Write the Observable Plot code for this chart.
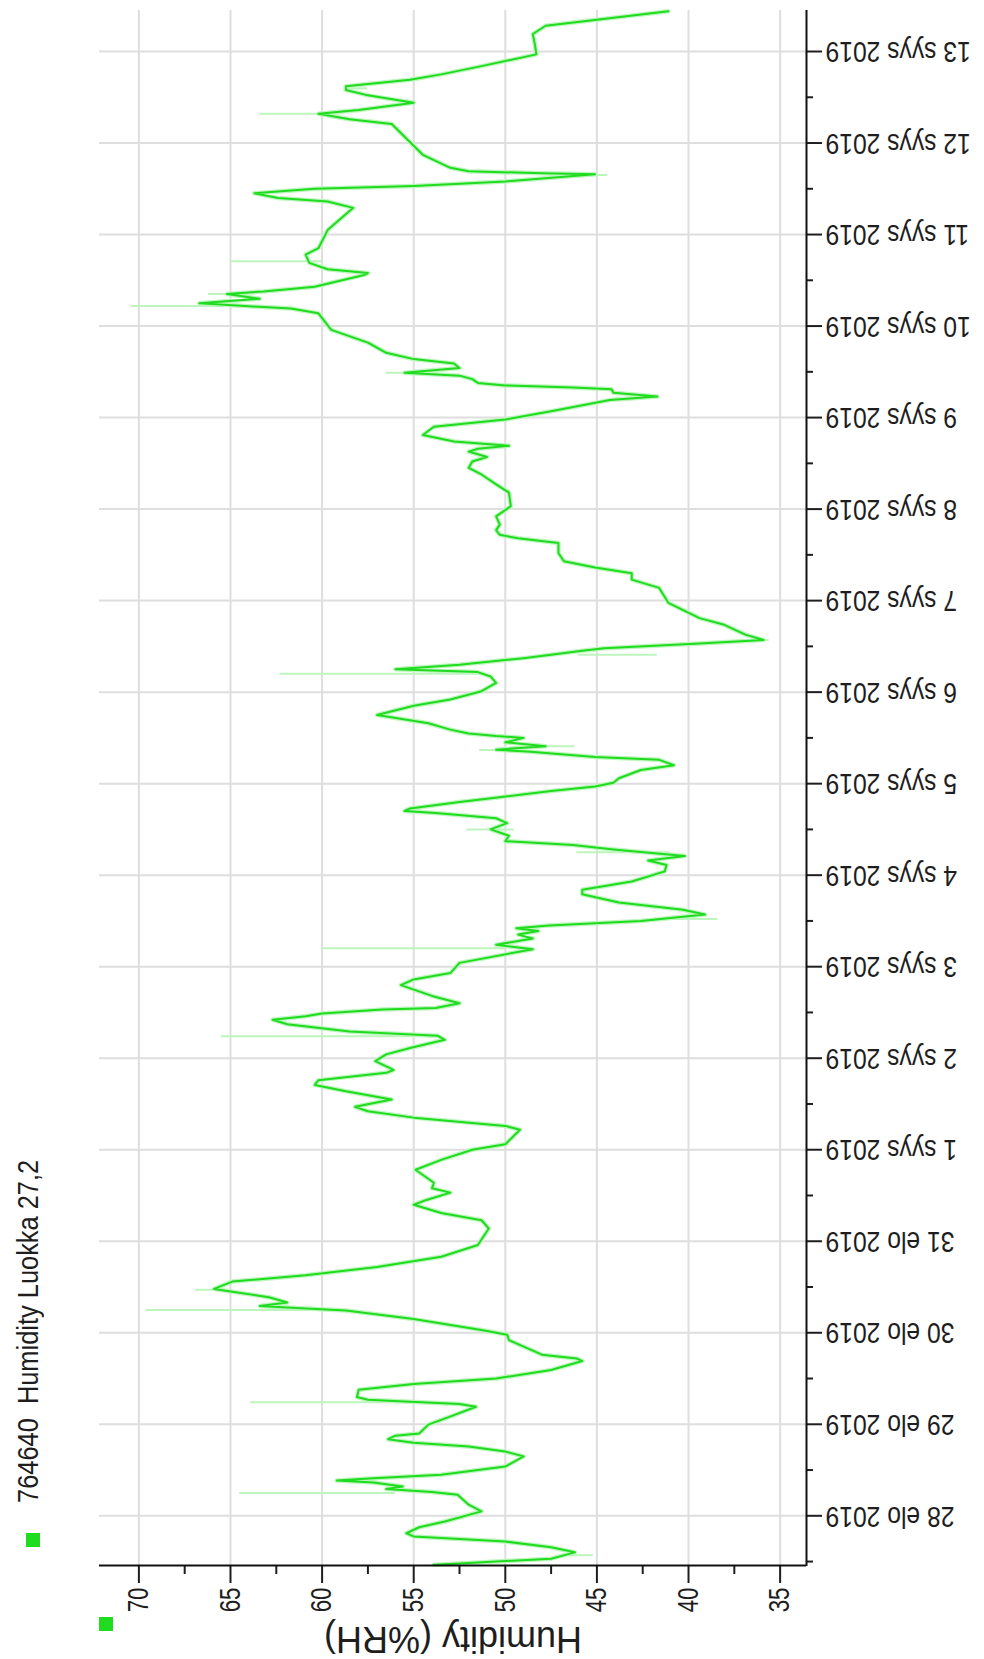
<!DOCTYPE html>
<html>
<head>
<meta charset="utf-8">
<script src="https://cdn.jsdelivr.net/npm/d3@7"></script>
<script src="https://cdn.jsdelivr.net/npm/@observablehq/plot@0.6"></script>
<style>
  html, body { margin: 0; padding: 0; background: #fff; }
  body { width: 984px; height: 1659px; overflow: hidden; position: relative; }
  /* the chart is laid out landscape and turned a quarter turn */
  #page {
    position: absolute; left: 0; top: 0; width: 1659px; height: 984px;
    transform-origin: 0 0; transform: translate(0, 1659px) rotate(-90deg);
    font-family: "Liberation Sans", Arial, sans-serif; background: #fff;
  }
  #chart { position: absolute; left: 0; top: 0; z-index: 0; }
  .legend-text {
    position: absolute; left: 156px; top: 14px; font-size: 29px; line-height: 29px; z-index: 2;
    white-space: pre; color: #1e1e1e; transform-origin: 0 50%; transform: scaleX(0.876);
  }
  .swatch { position: absolute; width: 14px; height: 14px; background: #1fdc1f; z-index: 2; }
</style>
</head>
<body>
<div id="page">
  <div id="chart"></div>
  <div class="swatch" style="left:112px; top:26px;"></div>
  <div class="legend-text">764640  Humidity Luokka 27,2</div>
  <div class="swatch" style="left:28px; top:99px;"></div>
</div>
<script>
// Logger 764640, relative humidity readings (UTC timestamps)
const times = [
  "2019-08-27 11:10","2019-08-27 11:30","2019-08-27 12:45","2019-08-27 14:25","2019-08-27 15:45",
  "2019-08-27 17:15","2019-08-27 17:55","2019-08-27 18:35","2019-08-27 19:25","2019-08-27 21:00",
  "2019-08-27 22:30","2019-08-28 01:10","2019-08-28 02:55","2019-08-28 05:30","2019-08-28 06:15",
  "2019-08-28 07:00","2019-08-28 07:40","2019-08-28 08:45","2019-08-28 09:15","2019-08-28 09:50",
  "2019-08-28 10:45","2019-08-28 12:55","2019-08-28 15:35","2019-08-28 16:50","2019-08-28 18:10",
  "2019-08-28 19:10","2019-08-28 20:05","2019-08-28 21:00","2019-08-28 21:35","2019-08-28 23:55",
  "2019-08-29 02:25","2019-08-29 04:35","2019-08-29 05:20","2019-08-29 06:00","2019-08-29 06:25",
  "2019-08-29 07:10","2019-08-29 09:05","2019-08-29 10:35","2019-08-29 12:00","2019-08-29 14:15",
  "2019-08-29 16:35","2019-08-29 17:15","2019-08-29 18:15","2019-08-29 22:05","2019-08-29 23:30",
  "2019-08-30 00:45","2019-08-30 03:35","2019-08-30 05:50","2019-08-30 06:30","2019-08-30 07:00",
  "2019-08-30 07:55","2019-08-30 09:20","2019-08-30 11:30","2019-08-30 13:25","2019-08-30 15:05",
  "2019-08-30 17:15","2019-08-30 19:55","2019-08-30 23:00","2019-08-31 03:20","2019-08-31 05:30",
  "2019-08-31 07:25","2019-08-31 09:35","2019-08-31 10:50","2019-08-31 12:45","2019-08-31 13:55",
  "2019-08-31 15:20","2019-08-31 18:45","2019-08-31 21:20","2019-09-01 00:00","2019-09-01 01:25",
  "2019-09-01 05:15","2019-09-01 06:15","2019-09-01 08:25","2019-09-01 10:05","2019-09-01 11:15",
  "2019-09-01 13:10","2019-09-01 15:20","2019-09-01 17:00","2019-09-01 18:15","2019-09-01 20:10",
  "2019-09-01 20:55","2019-09-01 23:15","2019-09-02 01:00","2019-09-02 02:40","2019-09-02 04:50",
  "2019-09-02 05:55","2019-09-02 07:00","2019-09-02 08:55","2019-09-02 10:05","2019-09-02 11:00",
  "2019-09-02 11:45","2019-09-02 12:45","2019-09-02 13:10","2019-09-02 14:25","2019-09-02 16:20",
  "2019-09-02 19:10","2019-09-02 20:40","2019-09-02 22:20","2019-09-03 01:00","2019-09-03 04:35",
  "2019-09-03 05:45","2019-09-03 07:25","2019-09-03 08:25","2019-09-03 09:20","2019-09-03 10:05",
  "2019-09-03 10:50","2019-09-03 12:00","2019-09-03 13:40","2019-09-03 14:55","2019-09-03 16:50",
  "2019-09-03 19:00","2019-09-03 20:10","2019-09-03 22:20","2019-09-04 01:00","2019-09-04 02:40",
  "2019-09-04 03:50","2019-09-04 05:00","2019-09-04 06:45","2019-09-04 07:55","2019-09-04 08:55",
  "2019-09-04 10:20","2019-09-04 12:00","2019-09-04 13:40","2019-09-04 14:55","2019-09-04 16:20",
  "2019-09-04 16:50","2019-09-04 17:30","2019-09-04 19:10","2019-09-04 22:05","2019-09-04 23:15",
  "2019-09-05 00:15","2019-09-05 01:25","2019-09-05 03:35","2019-09-05 04:50","2019-09-05 06:15",
  "2019-09-05 07:00","2019-09-05 08:25","2019-09-05 08:55","2019-09-05 09:50","2019-09-05 10:50",
  "2019-09-05 12:00","2019-09-05 12:30","2019-09-05 13:10","2019-09-05 14:10","2019-09-05 15:50",
  "2019-09-05 18:00","2019-09-05 20:25","2019-09-05 22:05","2019-09-06 00:15","2019-09-06 02:25",
  "2019-09-06 04:05","2019-09-06 05:15","2019-09-06 06:00","2019-09-06 07:10","2019-09-06 08:55",
  "2019-09-06 10:50","2019-09-06 11:30","2019-09-06 12:45","2019-09-06 13:40","2019-09-06 15:05",
  "2019-09-06 17:45","2019-09-06 19:25","2019-09-06 23:25","2019-09-07 03:20","2019-09-07 05:30",
  "2019-09-07 07:10","2019-09-07 08:40","2019-09-07 10:20","2019-09-07 12:30","2019-09-07 15:05",
  "2019-09-07 16:20","2019-09-07 17:15","2019-09-07 18:30","2019-09-07 19:55","2019-09-07 22:05",
  "2019-09-08 00:45","2019-09-08 04:20","2019-09-08 06:30","2019-09-08 09:05","2019-09-08 10:50",
  "2019-09-08 12:30","2019-09-08 13:40","2019-09-08 15:05","2019-09-08 15:50","2019-09-08 16:35",
  "2019-09-08 17:45","2019-09-08 19:25","2019-09-08 21:35","2019-09-08 23:30","2019-09-09 01:40",
  "2019-09-09 04:35","2019-09-09 05:30","2019-09-09 06:30","2019-09-09 07:25","2019-09-09 07:55",
  "2019-09-09 08:25","2019-09-09 09:05","2019-09-09 10:05","2019-09-09 11:00","2019-09-09 11:45",
  "2019-09-09 13:00","2019-09-09 14:10","2019-09-09 15:20","2019-09-09 17:00","2019-09-09 19:40",
  "2019-09-09 23:00","2019-09-10 03:20","2019-09-10 04:35","2019-09-10 05:15","2019-09-10 06:00",
  "2019-09-10 07:10","2019-09-10 08:25","2019-09-10 09:05","2019-09-10 10:20","2019-09-10 13:25",
  "2019-09-10 13:55","2019-09-10 14:55","2019-09-10 16:35","2019-09-10 18:45","2019-09-10 20:25",
  "2019-09-11 01:10","2019-09-11 07:00","2019-09-11 08:40","2019-09-11 09:35","2019-09-11 10:50",
  "2019-09-11 12:00","2019-09-11 12:45","2019-09-11 13:55","2019-09-11 15:50","2019-09-11 16:05",
  "2019-09-11 16:35","2019-09-11 17:30","2019-09-11 20:55","2019-09-12 01:40","2019-09-12 05:00",
  "2019-09-12 06:15","2019-09-12 07:40","2019-09-12 08:40","2019-09-12 10:35","2019-09-12 12:30",
  "2019-09-12 13:55","2019-09-12 14:55","2019-09-12 16:35","2019-09-12 18:00","2019-09-12 20:10",
  "2019-09-12 23:15","2019-09-13 02:10","2019-09-13 04:35","2019-09-13 06:45","2019-09-13 07:55",
  "2019-09-13 10:35"
];
const humidity = [
  53.9,52.5,47.5,46.2,47.5, 50.0,52.5,55.0,55.4,54.7,
  53.3,51.3,52.0,52.6,54.0, 56.5,55.6,57.2,59.2,57.2,
  53.5,50.0,49.0,50.0,52.0, 55.0,56.4,56.0,54.7,54.2,
  52.8,51.6,52.5,55.5,57.5, 58.1,58.0,55.0,50.5,47.5,
  45.8,46.1,48.0,49.8,49.9, 51.3,55.0,58.7,61.4,63.4,
  61.9,62.9,65.9,64.9,60.9, 57.0,53.5,51.5,50.9,51.3,
  53.5,55.0,54.3,53.0,54.0, 53.9,54.9,53.5,51.8,50.0,
  49.2,50.0,55.0,57.5,58.2, 56.2,58.7,60.4,60.2,56.5,
  56.1,57.1,56.5,55.2,53.3, 53.7,58.5,61.9,62.7,60.9,
  60.0,56.7,53.8,52.5,54.0, 55.7,55.0,53.0,52.5,48.5,
  50.5,48.5,49.3,48.2,49.4, 47.6,42.6,39.1,40.3,43.8,
  45.8,45.8,43.1,41.3,41.2, 42.2,40.2,44.1,46.3,50.0,
  49.8,50.8,49.9,50.5,53.8, 55.5,55.2,52.5,47.5,45.1,
  44.1,43.8,42.6,40.8,41.6, 45.1,48.8,50.5,47.8,50.0,
  49.0,50.5,52.0,53.0,54.2, 57.0,55.0,53.0,51.3,50.5,
  50.8,51.5,56.0,52.5,49.0, 45.8,44.6,39.4,35.9,36.9,
  38.1,39.4,41.1,41.6,43.1, 43.1,45.1,46.8,47.1,47.1,
  49.3,50.3,50.5,50.3,50.5, 49.7,49.8,50.5,51.3,52.0,
  51.8,51.0,52.0,51.5,49.8, 52.8,54.5,53.9,50.0,47.5,
  44.3,41.7,44.1,44.2,46.3, 50.0,51.5,51.8,52.5,55.5,
  52.5,52.8,55.0,56.5,57.5, 59.5,60.2,61.7,64.2,66.7,
  63.4,65.2,63.2,60.4,57.7, 57.5,59.7,60.7,60.9,60.2,
  59.7,58.3,59.7,62.4,63.7, 60.4,55.0,50.0,45.1,48.0,
  52.0,53.0,54.5,55.5,56.2, 58.5,60.2,58.0,55.0,57.5,
  58.7,58.7,55.2,53.5,51.3, 48.3,48.4,48.5,47.8,45.7,
  41.1
];

// Short single-reading excursions of the raw signal
const spikeTimes = [
  "2019-08-27 13:40","2019-08-28 06:00","2019-08-29 05:45","2019-08-30 06:00","2019-08-30 11:15",
  "2019-09-02 05:45","2019-09-03 04:50","2019-09-03 12:30","2019-09-04 06:00","2019-09-04 12:00",
  "2019-09-05 08:50","2019-09-05 09:50","2019-09-06 04:50","2019-09-06 09:50","2019-09-06 13:40",
  "2019-09-09 11:45","2019-09-10 05:15","2019-09-10 08:25","2019-09-10 17:00","2019-09-11 15:35",
  "2019-09-12 07:40","2019-09-12 14:20"
];
const spikeFrom = [47.0,56.0,55.0,60.0,65.0, 54.0,50.0,42.0,41.0,49.5, 50.0,48.5,51.5,46.0,36.5, 54.0,64.0,64.0,60.0,47.0, 59.0,57.5];
const spikeTo   = [45.2,64.5,63.9,69.6,66.9, 65.5,60.0,38.4,46.1,52.1, 51.4,46.2,62.3,41.7,35.6, 56.5,70.4,66.2,65.0,44.4, 63.4,58.8];

// Axis ticks and their labels
const timeDomain = ["2019-08-27 10:58", "2019-09-13 11:01"];
const humidityDomain = [33.56, 72.15];
const dayTicks = [
  "2019-08-28 00:00","2019-08-29 00:00","2019-08-30 00:00","2019-08-31 00:00","2019-09-01 00:00",
  "2019-09-02 00:00","2019-09-03 00:00","2019-09-04 00:00","2019-09-05 00:00","2019-09-06 00:00",
  "2019-09-07 00:00","2019-09-08 00:00","2019-09-09 00:00","2019-09-10 00:00","2019-09-11 00:00",
  "2019-09-12 00:00","2019-09-13 00:00"
];
const dayLabels = [
  "28 elo 2019","29 elo 2019","30 elo 2019","31 elo 2019","1 syys 2019",
  "2 syys 2019","3 syys 2019","4 syys 2019","5 syys 2019","6 syys 2019",
  "7 syys 2019","8 syys 2019","9 syys 2019","10 syys 2019","11 syys 2019",
  "12 syys 2019","13 syys 2019"
];
const halfDayTicks = [
  "2019-08-27 12:00","2019-08-28 12:00","2019-08-29 12:00","2019-08-30 12:00","2019-08-31 12:00",
  "2019-09-01 12:00","2019-09-02 12:00","2019-09-03 12:00","2019-09-04 12:00","2019-09-05 12:00",
  "2019-09-06 12:00","2019-09-07 12:00","2019-09-08 12:00","2019-09-09 12:00","2019-09-10 12:00",
  "2019-09-11 12:00","2019-09-12 12:00"
];
const humidityTicks = [35, 40, 45, 50, 55, 60, 65, 70];
const humidityMinorTicks = [37.5, 42.5, 47.5, 52.5, 57.5, 62.5, 67.5];
const axisTitle = "Humidity (%RH)";

const green = "#1fdc1f";
const paleGreen = "#bdf5bd";
const gridColor = "#dedede";

const parse = d3.utcParse("%Y-%m-%d %H:%M");
const series = times.map((t, i) => ({time: parse(t), humidity: humidity[i]}));
const spikes = spikeTimes.map((t, i) => ({time: parse(t), from: spikeFrom[i], to: spikeTo[i]}));
const days = dayTicks.map(parse);
const halfDays = halfDayTicks.map(parse);
const dayLabelOf = new Map(days.map((d, i) => [+d, dayLabels[i]]));
const xDomain = timeDomain.map(parse);

const chart = Plot.plot({
  width: 1659,
  height: 984,
  marginLeft: 93,
  marginRight: 10,
  marginTop: 99,
  marginBottom: 178,
  x: {type: "utc", domain: xDomain},
  y: {domain: humidityDomain},
  style: {fontFamily: "'Liberation Sans', Arial, sans-serif", fontSize: "29px", color: "#1e1e1e", background: "#fff"},
  marks: [
    Plot.gridX(days, {stroke: gridColor, strokeOpacity: 1, strokeWidth: 2}),
    Plot.gridY(humidityTicks, {stroke: gridColor, strokeOpacity: 1, strokeWidth: 2}),
    Plot.ruleX(spikes, {x: "time", y1: "from", y2: "to", stroke: paleGreen, strokeWidth: 2}),
    Plot.line(series, {x: "time", y: "humidity", stroke: paleGreen, strokeWidth: 4.5}),
    Plot.line(series, {x: "time", y: "humidity", stroke: green, strokeWidth: 2}),
    Plot.axisX(days, {tickFormat: (d) => dayLabelOf.get(+d), tickRotate: -90, tickSize: 16, tickPadding: 3, strokeWidth: 2, label: null}),
    Plot.axisX(halfDays, {tickFormat: () => "", tickSize: 7, strokeWidth: 2, label: null}),
    Plot.axisY(humidityTicks, {tickSize: 17, tickPadding: 5, strokeWidth: 2, label: null}),
    Plot.axisY(humidityMinorTicks, {tickFormat: () => "", tickSize: 8, strokeWidth: 2, label: null}),
    Plot.ruleY([humidityDomain[0]], {stroke: "#111", strokeWidth: 2}),
    Plot.ruleX([xDomain[0]], {stroke: "#111", strokeWidth: 2}),
    Plot.text([axisTitle], {frameAnchor: "left", textAnchor: "middle", rotate: -90, dx: -73, fontSize: 36, fill: "#1e1e1e"})
  ]
});
document.getElementById("chart").appendChild(chart);

// narrow the tick lettering
function squeeze(selector, ratio) {
  chart.querySelectorAll(selector).forEach((t) => {
    if (!t.textContent) return;
    const w = t.getComputedTextLength();
    if (w > 0) {
      t.setAttribute("textLength", (w * ratio).toFixed(1));
      t.setAttribute("lengthAdjust", "spacingAndGlyphs");
    }
  });
}
squeeze('[aria-label="x-axis tick label"] text', 0.85);
squeeze('[aria-label="y-axis tick label"] text', 0.77);
</script>
</body>
</html>
